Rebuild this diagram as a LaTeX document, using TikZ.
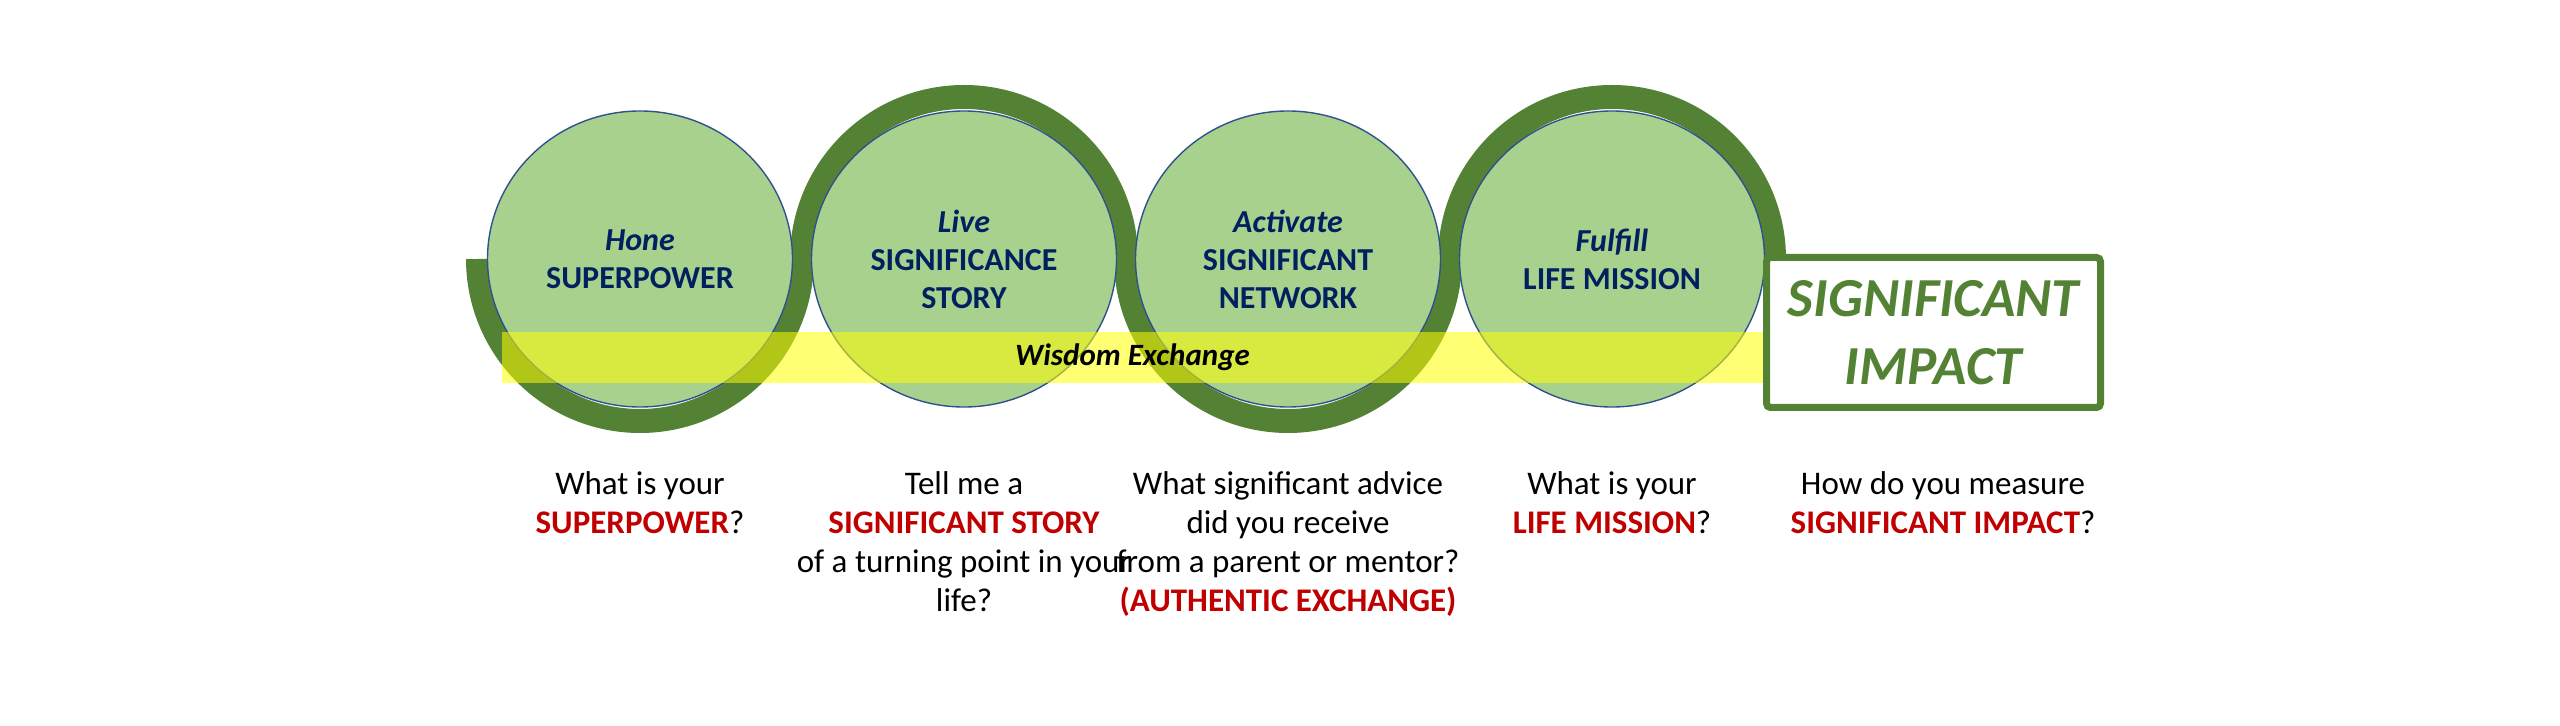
\documentclass[tikz,border=0pt]{standalone}
\usepackage{fontspec}
\setmainfont{Carlito}
\usetikzlibrary{positioning,shapes.geometric,backgrounds}

\definecolor{circfill}{HTML}{A9D18E}
\definecolor{circline}{HTML}{2F528F}
\definecolor{ringgreen}{HTML}{548235}
\definecolor{navytext}{HTML}{002060}
\definecolor{askred}{HTML}{C00000}
\definecolor{bandyellow}{HTML}{FFFF00}

\newcommand{\keyword}[1]{\textcolor{askred}{\bfseries #1}}

\begin{document}
\begin{tikzpicture}[x=0.5pt,y=-0.5pt]
  \tikzset{
    stage/.style={ellipse, fill=circfill, draw=circline, line width=0.7pt,
      minimum width=152.5pt, minimum height=148pt, inner sep=0pt, outer sep=0pt,
      align=center, text=navytext, font=\fontsize{16pt}{19pt}\selectfont\bfseries},
    wave/.style={draw=ringgreen, line width=12pt},
    band/.style={fill=bandyellow, fill opacity=0.55, text opacity=1,
      minimum width=630.5pt, minimum height=25.5pt, inner sep=0pt,
      font=\fontsize{15.5pt}{18pt}\selectfont\bfseries\itshape},
    impactbox/.style={draw=ringgreen, line width=3.5pt, fill=white, rounded corners=2pt,
      minimum width=167pt, minimum height=75pt, inner sep=0pt, align=center,
      text=ringgreen, font=\fontsize{27.5pt}{34pt}\selectfont\bfseries\itshape},
    question/.style={align=center, anchor=north, inner sep=0pt,
      font=\fontsize{16.5pt}{19.5pt}\selectfont},
  }
  \useasboundingbox (0,0) rectangle (2560,726);

  % the four stages
  \node[stage] (hone) at (640,259) {\textit{Hone}\\SUPERPOWER};
  \node[stage, right=9.5pt of hone] (live) {\textit{Live}\\SIGNIFICANCE\\STORY};
  \node[stage, right=9.5pt of live] (activate) {\textit{Activate}\\SIGNIFICANT\\NETWORK};
  \node[stage, right=9.5pt of activate] (fulfill) {\textit{Fulfill}\\LIFE MISSION};

  % green wave behind the stages
  \begin{scope}[on background layer]
    \draw[wave] (hone.center) ++(-81pt,0) arc[start angle=180, end angle=360, radius=81pt];
    \draw[wave] (live.center) ++(-81pt,0) arc[start angle=180, end angle=0, radius=81pt];
    \draw[wave] (activate.center) ++(-81pt,0) arc[start angle=180, end angle=360, radius=81pt];
    \draw[wave] (fulfill.center) ++(-81pt,0) arc[start angle=180, end angle=0, radius=81pt];
  \end{scope}

  \node[band] (wisdom) at (1132.5,357.5) {Wisdom Exchange};
  \node[impactbox] (impact) at (1933.5,332.5) {SIGNIFICANT\\IMPACT};

  % questions
  \node[question, below=32pt of hone] (q1) {What is your\\\keyword{SUPERPOWER}?};
  \node[question, below=32pt of live] (q2) {Tell me a\\\keyword{SIGNIFICANT STORY}\\of a turning point in your\\life?};
  \node[question, below=32pt of activate] (q3) {What significant advice\\did you receive\\from a parent or mentor?\\\keyword{(AUTHENTIC EXCHANGE)}};
  \node[question, below=32pt of fulfill] (q4) {What is your\\\keyword{LIFE MISSION}?};
  \node[question] (q5) at (1943,471) {How do you measure\\\keyword{SIGNIFICANT IMPACT}?};
\end{tikzpicture}
\end{document}
